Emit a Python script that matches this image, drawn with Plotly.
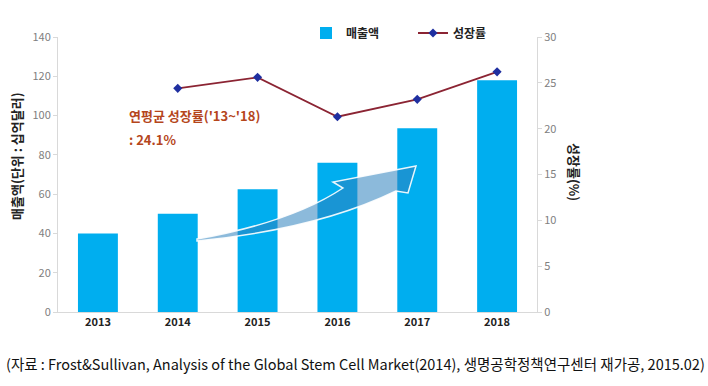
import plotly.graph_objects as go

years = ["2013", "2014", "2015", "2016", "2017", "2018"]
sales = [40, 50, 62.5, 76, 93.5, 118]
growth_years = ["2014", "2015", "2016", "2017", "2018"]
growth = [24.4, 25.6, 21.3, 23.2, 26.2]
left_ticks = [0, 20, 40, 60, 80, 100, 120, 140]
right_ticks = [0, 5, 10, 15, 20, 25, 30]

FONT = "Noto Sans CJK KR"
L, R, T, B = 58, 171, 37, 74
W, H = 708, 386
PW, PH = W - L - R, H - T - B

def px(x):
    return (x - L) / PW

def py(y):
    return (H - B - y) / PH

fig = go.Figure()
fig.add_trace(go.Bar(x=years, y=sales, name="매출액", marker=dict(color="#00AEEF", line=dict(width=0)),
                     width=0.5, yaxis="y"))
fig.add_trace(go.Scatter(x=growth_years, y=growth, name="성장률", mode="lines+markers",
                         line=dict(color="#8B2433", width=1.8),
                         marker=dict(symbol="diamond", size=7, color="#1F2FA0"), yaxis="y2"))

# curved arrow decoration
pts = dict(
    t1=(197, 239), c1=(292, 222), e1=(343, 188), b1=(333, 182), tip=(416, 166),
    b2=(408, 193), i2=(396, 191), c2=(318, 229), t2=(197, 241))
P = {k: (px(v[0]), py(v[1])) for k, v in pts.items()}
path = ("M {t1[0]},{t1[1]} Q {c1[0]},{c1[1]} {e1[0]},{e1[1]} L {b1[0]},{b1[1]} L {tip[0]},{tip[1]} "
        "L {b2[0]},{b2[1]} L {i2[0]},{i2[1]} Q {c2[0]},{c2[1]} {t2[0]},{t2[1]} Z").format(**P)
fig.add_shape(type="path", path=path, xref="paper", yref="paper",
              fillcolor="rgba(45,130,190,0.55)", line=dict(color="rgba(255,255,255,0.9)", width=1.5))

fig.update_layout(
    width=W, height=H,
    margin=dict(l=L, r=R, t=T, b=B, autoexpand=False),
    plot_bgcolor="white", paper_bgcolor="white",
    font=dict(family=FONT, size=11, color="#7f7f7f"),
    bargap=0.5,
    xaxis=dict(type="category", showgrid=False, showline=True, linecolor="#d9d9d9", linewidth=1,
               ticks="", tickfont=dict(family=FONT, size=11, color="#222222", weight="bold")),
    yaxis=dict(range=[0, 140], tickvals=left_ticks, showgrid=False, showline=True, linecolor="#d9d9d9",
               ticks="outside", ticklen=4, tickcolor="#d9d9d9", zeroline=False,
               tickfont=dict(size=11, color="#808080")),
    yaxis2=dict(range=[0, 30], tickvals=right_ticks, overlaying="y", side="right", showgrid=False,
                showline=True, linecolor="#d9d9d9", ticks="outside", ticklen=4, tickcolor="#d9d9d9",
                zeroline=False, tickfont=dict(size=11, color="#808080")),
    legend=dict(orientation="h", x=px(306), xanchor="left", y=py(33), yanchor="middle",
                font=dict(family=FONT, size=12, color="#222222", weight="bold"),
                bgcolor="rgba(0,0,0,0)", entrywidth=62, itemwidth=30, traceorder="normal"),
    showlegend=True,
)

fig.add_annotation(text="매출액(단위 : 십억달러)", xref="paper", yref="paper", x=px(16), y=py(156),
                   xanchor="center", yanchor="middle", textangle=-90, showarrow=False,
                   font=dict(family=FONT, size=13, color="#222222", weight="bold"))
fig.add_annotation(text="성장률(%)", xref="paper", yref="paper", x=px(575), y=py(172),
                   xanchor="center", yanchor="middle", textangle=90, showarrow=False,
                   font=dict(family=FONT, size=13, color="#222222", weight="bold"))
fig.add_annotation(text="연평균 성장률('13~'18)", xref="paper", yref="paper", x=px(127), y=py(115),
                   xanchor="left", yanchor="middle", showarrow=False,
                   font=dict(family=FONT, size=13, color="#B5461C", weight="bold"))
fig.add_annotation(text=": 24.1%", xref="paper", yref="paper", x=px(127), y=py(139),
                   xanchor="left", yanchor="middle", showarrow=False,
                   font=dict(family=FONT, size=13, color="#B5461C", weight="bold"))
fig.add_annotation(text="(자료 : Frost&Sullivan, Analysis of the Global Stem Cell Market(2014), 생명공학정책연구센터 재가공, 2015.02)",
                   xref="paper", yref="paper", x=px(4), y=py(364), xanchor="left", yanchor="middle",
                   showarrow=False, font=dict(family=FONT, size=14.5, color="#111111"))

fig.write_html("out.html", config={"displayModeBar": False},
               post_script="document.body.style.margin='0';")
